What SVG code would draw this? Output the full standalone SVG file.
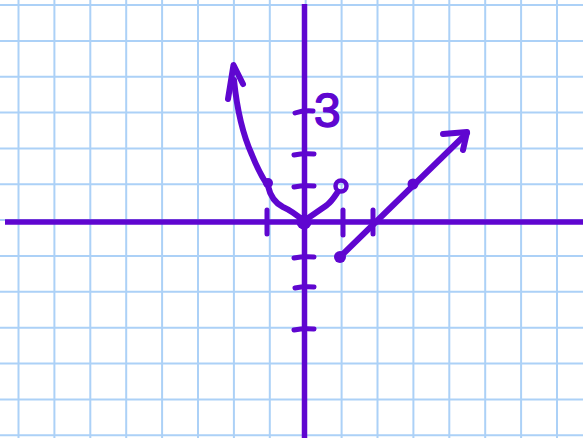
<svg xmlns="http://www.w3.org/2000/svg" width="583" height="438" viewBox="0 0 583 438">
<style>
.g{stroke:#acd1f7;stroke-width:2;fill:none}
.p{stroke:#5f06d0;stroke-width:6;fill:none;stroke-linecap:round;stroke-linejoin:round}
.a{stroke:#5f06d0;stroke-width:5.5;fill:none}
.t{stroke:#5f06d0;stroke-width:5;fill:none;stroke-linecap:round}
.d{fill:#5f06d0}
.lbl{font-family:"Liberation Sans",Arial,sans-serif;font-size:48px;fill:#5f06d0;stroke:#5f06d0;stroke-width:1.5;stroke-linejoin:round}
</style>
<rect width="583" height="438" fill="#ffffff"/>
<g id="grid" class="g">
<path d="M18.5 0V438M54.4 0V438M90.3 0V438M126.2 0V438M162.1 0V438M198 0V438M233.9 0V438M269.8 0V438M305.7 0V438M341.6 0V438M377.5 0V438M413.4 0V438M449.3 0V438M485.2 0V438M521.1 0V438M557 0V438"/>
<path d="M0 5H583M0 40.9H583M0 76.7H583M0 112.6H583M0 148.4H583M0 184.3H583M0 220.1H583M0 256H583M0 291.8H583M0 327.7H583M0 363.5H583M0 399.4H583M0 435.2H583"/>
</g>
<g id="axes" class="a">
<path d="M304.5 4V438"/>
<path d="M5 222H583"/>
</g>
<g id="ticks" class="t">
<path d="M295 113Q304 110 313 111"/>
<path d="M294 155Q304 153 314 154"/>
<path d="M294 187Q304 185 314 186"/>
<path d="M294 258Q304 256 314 257"/>
<path d="M295 288Q304 286 314 287"/>
<path d="M294 330Q304 328 314 329"/>
<path d="M267 210V234"/>
<path d="M343 210V235"/>
<path d="M373 210V234"/>
</g>
<text class="lbl" x="314" y="127">3</text>
<g id="parabola">
<path class="p" d="M234 80C237 110 243 135 252 155C258 170 264 180 268 186C270 195 275 203 283 207C292 211 298 216 304 221C311 216 320 210 327 205C332 201 335 196 337 193"/>
<path class="p" d="M228 99L233.5 65L243 84"/>
<circle class="d" cx="268" cy="183" r="5"/>
<circle class="d" cx="304" cy="222" r="7.5"/>
<circle cx="341" cy="186" r="5.5" fill="none" stroke="#5f06d0" stroke-width="4.5"/>
</g>
<g id="line">
<path class="p" d="M340 257L467 133"/>
<path class="p" d="M443 134L467 132L463 150"/>
<circle class="d" cx="340" cy="257" r="6"/>
<circle class="d" cx="413" cy="184" r="5.5"/>
</g>
</svg>
